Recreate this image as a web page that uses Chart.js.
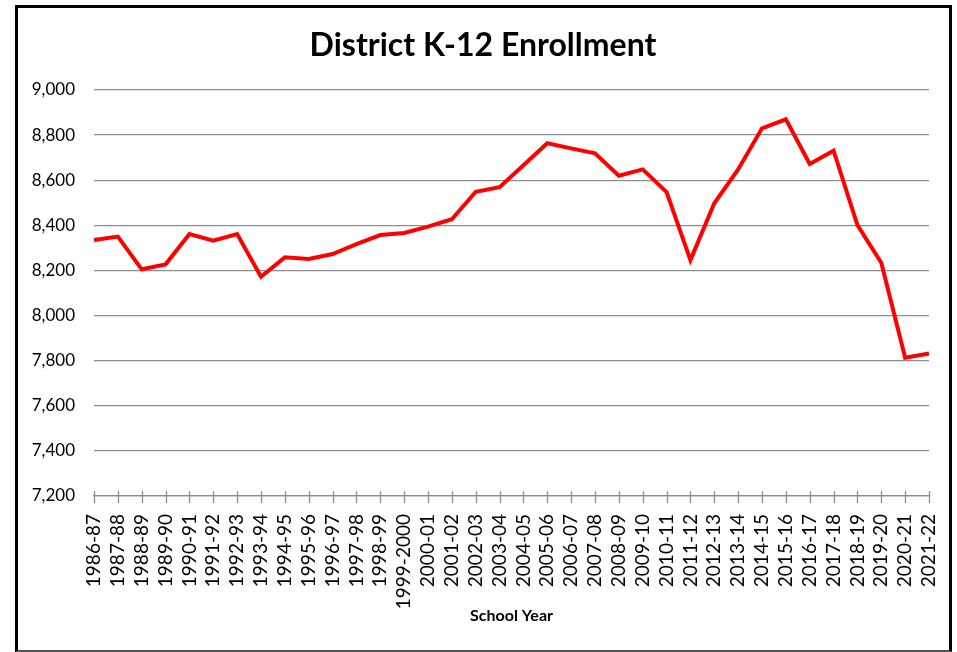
<!DOCTYPE html>
<html>
<head>
<meta charset="utf-8">
<title>District K-12 Enrollment</title>
<script src="https://cdn.jsdelivr.net/npm/chart.js@4/dist/chart.umd.min.js"></script>
<style>
  html, body { margin: 0; padding: 0; background: #fff; }
  #wrap { position: relative; width: 957px; height: 652px; }
  #chart { position: absolute; left: 0; top: 0; }
  #frame {
    position: absolute; left: 15px; top: 5px; width: 931px; height: 642px;
    border: 3px solid #000; border-bottom: 2px solid #555;
    pointer-events: none;
  }
</style>
</head>
<body>
<div id="wrap">
  <canvas id="chart" width="957" height="652"></canvas>
  <div id="frame"></div>
</div>
<script>
// Chart data
const schoolYears = [
  "1986-87", "1987-88", "1988-89", "1989-90", "1990-91", "1991-92", "1992-93",
  "1993-94", "1994-95", "1995-96", "1996-97", "1997-98", "1998-99", "1999-2000",
  "2000-01", "2001-02", "2002-03", "2003-04", "2004-05", "2005-06", "2006-07",
  "2007-08", "2008-09", "2009-10", "2010-11", "2011-12", "2012-13", "2013-14",
  "2014-15", "2015-16", "2016-17", "2017-18", "2018-19", "2019-20", "2020-21",
  "2021-22"
];
const enrollment = [
  8335, 8350, 8205, 8227, 8361, 8332, 8361,
  8172, 8258, 8251, 8273, 8317, 8357, 8366,
  8394, 8427, 8549, 8569, 8666, 8764, 8741,
  8719, 8620, 8648, 8547, 8246, 8498, 8648,
  8830, 8870, 8672, 8731, 8401, 8234, 7813,
  7832
];
const yTicks = [7200, 7400, 7600, 7800, 8000, 8200, 8400, 8600, 8800, 9000];
const chartTitle = 'District K-12 Enrollment';

const FONT = "Lato, 'Open Sans', sans-serif";
const GRID = '#8e8e8e';

// Title centred on the outer frame, not on the plot
const frameTitle = {
  id: 'frameTitle',
  afterDraw(chart) {
    const ctx = chart.ctx;
    ctx.save();
    ctx.fillStyle = '#000';
    ctx.font = 'bold 32px ' + FONT;
    ctx.textAlign = 'center';
    ctx.textBaseline = 'middle';
    ctx.fillText(chartTitle, 483, 46);
    ctx.restore();
  }
};

// Excel style tick marks that cross the category axis
const crossTicks = {
  id: 'crossTicks',
  afterDraw(chart) {
    const x = chart.scales.x;
    const ctx = chart.ctx;
    const y0 = x.top;
    ctx.save();
    ctx.strokeStyle = GRID;
    ctx.lineWidth = 1.3;
    ctx.beginPath();
    x.ticks.forEach((t, i) => {
      const px = Math.round(x.getPixelForTick(i)) + 0.5;
      ctx.moveTo(px, y0 - 5);
      ctx.lineTo(px, y0 + 7);
    });
    ctx.stroke();
    ctx.restore();
  }
};

const ctx = document.getElementById('chart').getContext('2d');
new Chart(ctx, {
  type: 'line',
  data: {
    labels: schoolYears,
    datasets: [{
      label: 'Enrollment',
      data: enrollment,
      borderColor: '#ff0000',
      backgroundColor: '#ff0000',
      borderWidth: 4,
      pointRadius: 0,
      tension: 0,
      fill: false
    }]
  },
  options: {
    responsive: false,
    animation: false,
    devicePixelRatio: 1,
    layout: { padding: { left: 0, right: 28, top: 90, bottom: 0 } },
    plugins: {
      legend: { display: false },
      tooltip: { enabled: false },
      title: { display: false }
    },
    scales: {
      x: {
        type: 'category',
        offset: false,
        afterFit(scale) {
          scale.height = 156;
          scale.paddingLeft = 0;
          scale.paddingRight = 0;
        },
        grid: { display: false, drawTicks: false },
        border: { display: true, color: GRID, width: 1.3 },
        ticks: {
          autoSkip: false,
          minRotation: 90,
          maxRotation: 90,
          padding: 18,
          color: '#000',
          font: { family: FONT, size: 19 }
        },
        title: {
          display: true,
          text: 'School Year',
          color: '#000',
          font: { family: FONT, size: 16, weight: 'bold' },
          padding: { top: 4, bottom: 27 }
        }
      },
      y: {
        min: 7200,
        max: 9000,
        afterFit(scale) { scale.width = 94; },
        afterBuildTicks(scale) { scale.ticks = yTicks.map(v => ({ value: v })); },
        grid: { color: GRID, lineWidth: 1.3, drawTicks: false },
        border: { display: false },
        ticks: {
          padding: 19,
          color: '#000',
          font: { family: FONT, size: 17 },
          callback: v => v.toLocaleString('en-US')
        }
      }
    }
  },
  plugins: [crossTicks, frameTitle]
});
</script>
</body>
</html>
